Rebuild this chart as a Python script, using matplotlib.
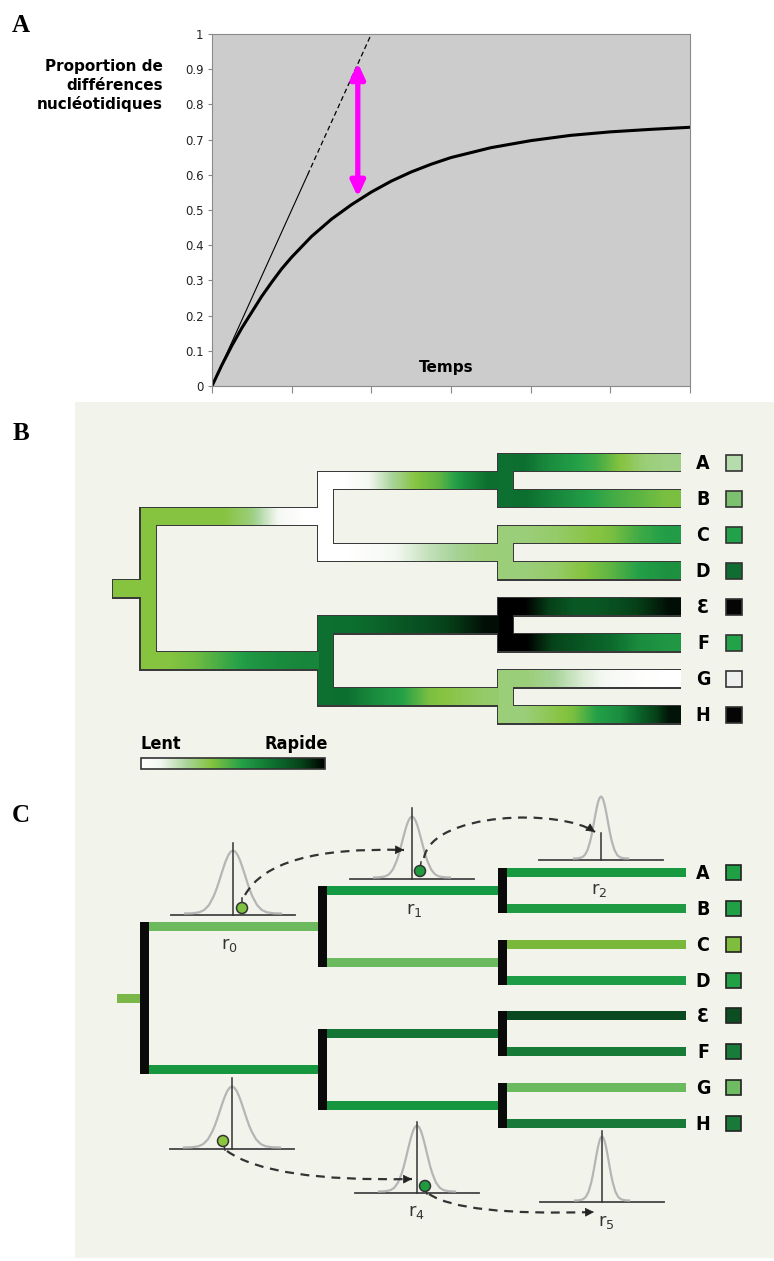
import numpy as np
import matplotlib.pyplot as plt
from matplotlib.colors import LinearSegmentedColormap
from matplotlib.patches import Rectangle, PathPatch, FancyArrowPatch, Circle
from matplotlib.path import Path
from matplotlib import font_manager

# ---------------- data ----------------
# panel A : proportion of nucleotide differences vs time
temps_ticks = [0, 1, 2, 3, 4, 5, 6]
prop_ticks = [0, 0.1, 0.2, 0.3, 0.4, 0.5, 0.6, 0.7, 0.8, 0.9, 1]
prop_labels = ["0", "0.1", "0.2", "0.3", "0.4", "0.5", "0.6", "0.7", "0.8", "0.9", "1"]
curve_t = [0, 0.125, 0.25, 0.375, 0.5, 0.625, 0.75, 0.875, 1, 1.25, 1.5, 1.75, 2, 2.25,
           2.5, 2.75, 3, 3.5, 4, 4.5, 5, 5.5, 6]
curve_p = [0, 0.06, 0.115, 0.165, 0.21, 0.255, 0.295, 0.333, 0.366, 0.425, 0.474, 0.515,
           0.551, 0.582, 0.608, 0.630, 0.649, 0.677, 0.697, 0.712, 0.722, 0.729, 0.735]
linear_t = [0, 1.2, 2.0]
linear_p = [0, 0.6, 1.0]
gap_t = 1.83
gap_p = [0.537, 0.918]

leaves = ["A", "B", "C", "D", "Ɛ", "F", "G", "H"]

# panel B : rates along branches (0 = lent, 1 = rapide)
b_stub_rate = 0.38
b_root_rate = 0.38
b_mid_rates = [0.0, 0.72]
b_pair_rates = [0.72, 0.3, 1.0, 0.3]
b_root_branches = [[0.38, 0.38, 0.38, 0.3, 0.1, 0.0],
                   [0.38, 0.42, 0.5, 0.58, 0.62, 0.64]]
b_mid_branches = [[0.0, 0.1, 0.25, 0.38, 0.45, 0.6, 0.72],
                  [0.0, 0.05, 0.12, 0.2, 0.26, 0.3],
                  [0.72, 0.75, 0.8, 0.84, 0.9, 0.97],
                  [0.72, 0.62, 0.55, 0.4, 0.36, 0.32]]
b_leaf_branches = [[0.72, 0.62, 0.56, 0.5, 0.38, 0.3, 0.28],
                   [0.72, 0.64, 0.57, 0.5, 0.45, 0.4],
                   [0.3, 0.32, 0.36, 0.4, 0.5, 0.56],
                   [0.3, 0.32, 0.38, 0.45, 0.55, 0.6],
                   [1.0, 0.88, 0.8, 0.8, 0.84, 0.9, 0.97],
                   [1.0, 0.86, 0.8, 0.74, 0.62, 0.58],
                   [0.3, 0.25, 0.15, 0.08, 0.02, 0.0],
                   [0.3, 0.35, 0.4, 0.55, 0.62, 0.8, 0.96]]
b_swatches = ["#b6dcae", "#7cc16f", "#21a24a", "#0f6d32", "#050505", "#22a34a", "#eef0f0", "#050505"]

# panel C : sampled rates as colours
c_stub_color = "#7ab648"
c_root_branches = ["#6cba5d", "#16963e"]
c_mid_branches = ["#139a43", "#6cba5f", "#137434", "#16963e"]
c_leaf_colors = ["#19993f", "#1d9a42", "#7ab83c", "#1c9c44", "#0b4a20", "#177a37", "#6cba5f", "#187938"]
c_swatches = ["#20a044", "#22a046", "#80bc3e", "#22a046", "#0c4d22", "#187b3a", "#6fbb62", "#187938"]

# bell shape of rate distributions
bell_x = [-1.0, -0.85, -0.7, -0.6, -0.5, -0.4, -0.35, -0.3, -0.25, -0.2, -0.15, -0.1, -0.05, 0,
          0.05, 0.1, 0.15, 0.2, 0.25, 0.3, 0.35, 0.4, 0.5, 0.6, 0.7, 0.85, 1.0]
bell_y = [0.0, 0.003, 0.02, 0.056, 0.135, 0.278, 0.375, 0.487, 0.607, 0.726, 0.835, 0.923, 0.98, 1.0,
          0.98, 0.923, 0.835, 0.726, 0.607, 0.487, 0.375, 0.278, 0.135, 0.056, 0.02, 0.003, 0.0]
rate_names = ["0", "1", "2", "3", "4", "5"]

# ---------------- figure ----------------
rate_cmap = LinearSegmentedColormap.from_list(
    "rate", [(0, "#ffffff"), (0.1, "#f4f8f2"), (0.25, "#a8d49a"), (0.38, "#86c440"),
             (0.55, "#24a048"), (0.72, "#0d7030"), (0.88, "#064018"), (1.0, "#000000")])

# narrow bold face for tree labels, if one is installed
narrow = None
for f in font_manager.fontManager.ttflist:
    n = f.fname.lower()
    if ("condensed-bold" in n or "narrow-bold" in n) and "oblique" not in n and "italic" not in n:
        narrow = f.fname
        break
if narrow:
    lab_font = dict(fontproperties=font_manager.FontProperties(fname=narrow))
else:
    lab_font = dict(family="DejaVu Sans", fontweight="bold")

fig = plt.figure(figsize=(7.74, 12.61), dpi=100)
ov = fig.add_axes([0, 0, 1, 1])
ov.axis("off")

ov.add_patch(Rectangle((75, 402), 699, 856, fc="#f2f4ec", ec="none", zorder=0))

# panel letters
for lab, yy in [("A", 25), ("B", 433), ("C", 816)]:
    ov.text(21, yy, lab, fontsize=18, fontweight="bold", family="Liberation Serif",
            ha="center", va="center")

# ---- panel A ----
ax = fig.add_axes([212 / 774, 1 - 386 / 1261, (690 - 212) / 774, (386 - 34) / 1261])
ax.set_facecolor("#cccccc")
ax.plot(curve_t, curve_p, color="black", lw=2.2, solid_capstyle="round", solid_joinstyle="round")
ax.plot(linear_t[:2], linear_p[:2], color="black", lw=0.8)
ax.plot(linear_t[1:], linear_p[1:], color="black", lw=0.9, ls=(0, (4, 2.5)))
ax.annotate("", xy=(gap_t, gap_p[1]), xytext=(gap_t, gap_p[0]),
            arrowprops=dict(arrowstyle="<|-|>,head_length=0.75,head_width=0.35",
                            color="#ff00ff", lw=3.8, mutation_scale=12, shrinkA=0, shrinkB=0))
ax.text(2.94, 0.052, "Temps", ha="center", va="center", fontweight="bold", fontsize=11)
ax.set_xlim(0, 6)
ax.set_ylim(0, 1)
ax.set_xticks(temps_ticks)
ax.set_xticklabels([])
ax.set_yticks(prop_ticks)
ax.set_yticklabels(prop_labels)
ax.tick_params(axis="x", direction="out", length=5, color="#888888")
ax.tick_params(axis="y", direction="out", length=3, color="#888888", labelsize=8.5, pad=3,
               labelcolor="#222222")
for s in ax.spines.values():
    s.set_color("#8a8a8a")
ov.text(163, 86, "Proportion de\ndifférences\nnucléotidiques", ha="right", va="center",
        multialignment="right", fontsize=11, fontweight="bold", linespacing=1.28)


# ---- tree layout ----
def tree_layout(y0, pitch, xr, x1, x2, xend, xstub, wv, wh):
    ly = [y0 + i * pitch for i in range(8)]
    py = [(ly[2 * k] + ly[2 * k + 1]) / 2 for k in range(4)]
    qy = [(py[0] + py[1]) / 2, (py[2] + py[3]) / 2]
    ry = (qy[0] + qy[1]) / 2
    lay = {}
    lay["stub"] = (xstub, xr - wv / 2 + 0.5, ry)
    lay["root_v"] = (xr, qy[0] - wh / 2, qy[1] + wh / 2)
    lay["root_h"] = [(xr + wv / 2 - 0.5, x1 - wv / 2 + 0.5, qy[k]) for k in range(2)]
    lay["mid_v"] = [(x1, py[2 * k] - wh / 2, py[2 * k + 1] + wh / 2) for k in range(2)]
    lay["mid_h"] = [(x1 + wv / 2 - 0.5, x2 - wv / 2 + 0.5, py[k]) for k in range(4)]
    lay["pair_v"] = [(x2, ly[2 * k] - wh / 2, ly[2 * k + 1] + wh / 2) for k in range(4)]
    lay["leaf_h"] = [(x2 + wv / 2 - 0.5, xend, ly[i]) for i in range(8)]
    lay["leaf_y"] = ly
    return lay


def grad(x0, x1, yc, h, rates):
    ov.imshow(np.array([rates]), cmap=rate_cmap, vmin=0, vmax=1,
              extent=(x0, x1, yc + h / 2, yc - h / 2), aspect="auto",
              interpolation="bilinear", zorder=3)


def solid(x0, x1, y0, y1, color, z=3):
    ov.add_patch(Rectangle((x0, y0), x1 - x0, y1 - y0, fc=color, ec="none", zorder=z))


# ---- panel B ----
wvB, whB = 15, 17
B = tree_layout(462.5, 36.07, 148, 325.5, 505.5, 680, 113, wvB, whB)
o = 1.3
# outlines
x0, x1, yc = B["stub"]
solid(x0 - o, x1, yc - whB / 2 - o, yc + whB / 2 + o, "#3a3a3a", 2)
verts = [B["root_v"]] + B["mid_v"] + B["pair_v"]
for xc, ya, yb in verts:
    solid(xc - wvB / 2 - o, xc + wvB / 2 + o, ya - o, yb + o, "#3a3a3a", 2)
for x0, x1, yc in B["root_h"] + B["mid_h"] + B["leaf_h"]:
    solid(x0, x1 + o, yc - whB / 2 - o, yc + whB / 2 + o, "#3a3a3a", 2)
# fills
x0, x1, yc = B["stub"]
solid(x0, x1, yc - whB / 2, yc + whB / 2, rate_cmap(b_stub_rate))
vrates = [b_root_rate] + b_mid_rates + b_pair_rates
for (xc, ya, yb), r in zip(verts, vrates):
    solid(xc - wvB / 2, xc + wvB / 2, ya, yb, rate_cmap(r))
for (x0, x1, yc), r in zip(B["root_h"], b_root_branches):
    grad(x0, x1, yc, whB, r)
for (x0, x1, yc), r in zip(B["mid_h"], b_mid_branches):
    grad(x0, x1, yc, whB, r)
for (x0, x1, yc), r in zip(B["leaf_h"], b_leaf_branches):
    grad(x0, x1, yc, whB, r)

for name, yy, col in zip(leaves, B["leaf_y"], b_swatches):
    ov.text(703, yy + 1, name, fontsize=14, ha="center", va="center", **lab_font)
    ov.add_patch(Rectangle((726, yy - 8), 16, 16, fc=col, ec="#333333", lw=1.2, zorder=4))

# colour scale
ov.imshow(np.linspace(0, 1, 256)[None, :], cmap=rate_cmap, vmin=0, vmax=1,
          extent=(141, 325, 769, 758), aspect="auto", zorder=3)
ov.add_patch(Rectangle((141, 758), 184, 11, fc="none", ec="#333333", lw=1.2, zorder=4))
ov.text(141, 744, "Lent", fontsize=13, ha="left", va="center", **lab_font)
ov.text(328, 744, "Rapide", fontsize=13, ha="right", va="center", **lab_font)

# ---- panel C ----
wvC, whC = 9, 9
C = tree_layout(872.5, 35.86, 144.5, 322.5, 502.5, 686, 117, wvC, whC)
x0, x1, yc = C["stub"]
solid(x0, x1, yc - whC / 2, yc + whC / 2, c_stub_color)
for xc, ya, yb in [C["root_v"]] + C["mid_v"] + C["pair_v"]:
    solid(xc - wvC / 2, xc + wvC / 2, ya, yb, "#0a0a0a", 4)
for (x0, x1, yc), col in zip(C["root_h"], c_root_branches):
    solid(x0, x1, yc - whC / 2, yc + whC / 2, col)
for (x0, x1, yc), col in zip(C["mid_h"], c_mid_branches):
    solid(x0, x1, yc - whC / 2, yc + whC / 2, col)
for (x0, x1, yc), col in zip(C["leaf_h"], c_leaf_colors):
    solid(x0, x1, yc - whC / 2, yc + whC / 2, col)
for name, yy, col in zip(leaves, C["leaf_y"], c_swatches):
    ov.text(703, yy + 1, name, fontsize=14, ha="center", va="center", **lab_font)
    ov.add_patch(Rectangle((726, yy - 7.5), 15, 15, fc=col, ec="#222222", lw=1.2, zorder=4))

# rate distributions: centre x, baseline y, half width, height, top of marker line
bells = [(233, 915, 48, 63, 843), (412, 879, 38, 61, 808), (601, 860, 27, 62, 833),
         (232, 1149, 48, 61, 1078), (417, 1193, 38, 66, 1122), (602, 1202, 27, 64, 1131)]
label_pos = [(229, 945), (414, 910), (599, 890), None, (416, 1212), (606, 1222)]
for (cx, by, w, h, vt), lp, nm in zip(bells, label_pos, rate_names):
    ov.plot([cx - 62, cx + 62], [by, by], color="#444444", lw=1.3, zorder=5)
    ov.plot([cx + w * bx for bx in bell_x], [by - 1.5 - h * yv for yv in bell_y],
            color="#b5b5b5", lw=1.6, zorder=5)
    ov.plot([cx, cx], [by, vt], color="#333333", lw=1.1, zorder=6)
    if lp is not None:
        ov.text(lp[0], lp[1], r"$\mathregular{r_%s}$" % nm, fontsize=13, color="#333333",
                ha="center", va="center", zorder=6)

# sampled values (circles with small stem)
circles = [((242, 908), (242, 898), "#7dc242"), ((420, 871), (421, 862), "#1f9a3f"),
           ((223, 1141), (225, 1150), "#8cc63f"), ((425, 1186), (427, 1194), "#1f9a3f")]
for (cx, cy), (sx, sy), col in circles:
    ov.plot([cx, sx], [cy, sy], color="#333333", lw=1.1, zorder=6)
    ov.add_patch(Circle((cx, cy), 5.5, fc=col, ec="#333333", lw=1.1, zorder=7))

# dashed transitions between nodes
curves = [
    [(245, 895), (272, 846), (404, 850)],
    [(424, 858), (432, 812), (560, 808), (595, 832)],
    [(227, 1151), (270, 1182), (412, 1179)],
    [(429, 1194), (462, 1216), (594, 1212)],
]
for pts in curves:
    codes = [Path.MOVETO] + [Path.CURVE3 if len(pts) == 3 else Path.CURVE4] * (len(pts) - 1)
    ov.add_patch(PathPatch(Path(pts, codes), fill=False, ec="#333333", lw=1.6,
                           ls=(0, (4, 3)), zorder=6))
    (xa, ya), (xb, yb) = pts[-2], pts[-1]
    d = np.hypot(xb - xa, yb - ya)
    start = (xb - 3 * (xb - xa) / d, yb - 3 * (yb - ya) / d)
    ov.add_patch(FancyArrowPatch(start, (xb, yb), arrowstyle="-|>", mutation_scale=14,
                                 color="#222222", lw=0.5, shrinkA=0, shrinkB=0, zorder=7))

ov.set_xlim(0, 774)
ov.set_ylim(1261, 0)
fig.savefig("out.png", dpi=100)
